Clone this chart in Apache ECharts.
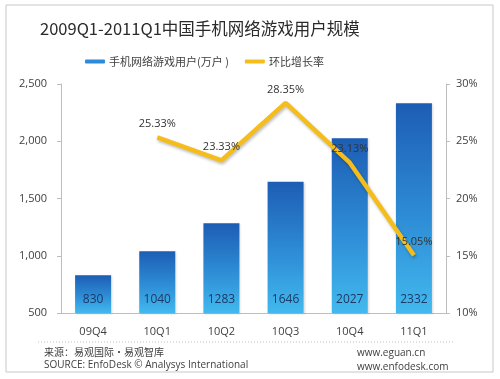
<!DOCTYPE html>
<html>
<head>
<meta charset="utf-8">
<script src="https://cdn.jsdelivr.net/npm/echarts@6/dist/echarts.min.js"></script>
<style>
html,body{margin:0;padding:0;background:#fff;}
#c{width:500px;height:379px;}
</style>
</head>
<body>
<div id="c"></div>
<script>
var categories = ['09Q4', '10Q1', '10Q2', '10Q3', '10Q4', '11Q1'];
var users = [830, 1040, 1283, 1646, 2027, 2332];
var growth = ['-', 25.33, 23.33, 28.35, 23.13, 15.05];
var leftTicks = { min: 500, max: 2500, interval: 500 };
var rightTicks = { min: 10, max: 30, interval: 5 };

var chart = echarts.init(document.getElementById('c'), null, { renderer: 'canvas' });
var font = '"Noto Sans CJK SC", "Open Sans", sans-serif';
var latin = '"Open Sans", "Noto Sans", sans-serif';
chart.setOption({
  animation: false,
  backgroundColor: '#fff',
  textStyle: { fontFamily: font },
  title: {
    text: '2009Q1-2011Q1中国手机网络游戏用户规模',
    left: 35, top: 15,
    textStyle: { fontSize: 16.5, fontWeight: 'normal', color: '#2a2a2a', fontFamily: font }
  },
  legend: {
    top: 51, left: 80,
    itemWidth: 20, itemHeight: 4, itemGap: 16,
    icon: 'roundRect',
    textStyle: { fontSize: 11, color: '#404040', fontFamily: font, padding: [0, 0, 0, -1] },
    data: [
      { name: '手机网络游戏用户(万户 )', itemStyle: { color: '#2c8ad8' } },
      { name: '环比增长率', itemStyle: { color: '#f5bd1b' } }
    ]
  },
  grid: { left: 61, right: 54, top: 84, bottom: 66 },
  xAxis: {
    type: 'category',
    data: categories,
    axisLine: { lineStyle: { color: '#bdbdbd', width: 1 } },
    axisTick: { show: false },
    axisLabel: { color: '#404040', fontSize: 11, margin: 13, fontFamily: latin }
  },
  yAxis: [
    {
      type: 'value', min: leftTicks.min, max: leftTicks.max, interval: leftTicks.interval,
      axisLine: { show: true, lineStyle: { color: '#bdbdbd' } },
      axisTick: { show: true, length: 4, lineStyle: { color: '#bdbdbd' } },
      splitLine: { show: false },
      axisLabel: {
        color: '#404040', fontSize: 11, margin: 14, fontFamily: latin,
        formatter: function (v) { return v.toLocaleString('en-US'); }
      }
    },
    {
      type: 'value', min: rightTicks.min, max: rightTicks.max, interval: rightTicks.interval,
      position: 'right',
      axisLine: { show: true, lineStyle: { color: '#bdbdbd' } },
      axisTick: { show: true, length: 4, lineStyle: { color: '#bdbdbd' } },
      splitLine: { show: false },
      axisLabel: { color: '#404040', fontSize: 11, margin: 10, fontFamily: latin, formatter: '{value}%' }
    }
  ],
  series: [
    {
      name: '手机网络游戏用户(万户 )',
      type: 'bar',
      data: users,
      barWidth: 36,
      itemStyle: {
        color: new echarts.graphic.LinearGradient(0, 0, 0, 1, [
          { offset: 0, color: '#1d5db4' },
          { offset: 0.55, color: '#2e8dd6' },
          { offset: 1, color: '#42b9ee' }
        ]),
        shadowColor: 'rgba(0,0,0,0.15)', shadowBlur: 2, shadowOffsetX: 1, shadowOffsetY: 1
      },
      label: {
        show: true, position: 'insideBottom', distance: 7,
        color: '#1c3a66', fontSize: 12, fontFamily: latin
      }
    },
    {
      name: '环比增长率',
      type: 'line',
      yAxisIndex: 1,
      data: growth,
      showSymbol: true,
      symbol: 'circle',
      symbolSize: 0,
      lineStyle: {
        color: '#f5bd1b', width: 4.5,
        shadowColor: 'rgba(0,0,0,0.25)', shadowBlur: 3, shadowOffsetX: 1, shadowOffsetY: 2
      },
      itemStyle: { color: '#f5bd1b' },
      label: {
        show: true, position: 'top', distance: 8,
        color: '#333333', fontSize: 11, fontFamily: latin,
        formatter: function (p) { return (typeof p.value === 'number') ? p.value.toFixed(2) + '%' : ''; }
      }
    }
  ],
  graphic: [
    { type: 'rect', shape: { x: 6, y: 5, width: 487, height: 367 }, style: { fill: null, stroke: '#c8c8c8', lineWidth: 1 }, silent: true },
    { type: 'line', shape: { x1: 38, y1: 342, x2: 455, y2: 342 }, style: { stroke: '#c0c0c0', lineWidth: 1, lineDash: [1, 2] }, silent: true },
    { type: 'text', left: 44, top: 347, style: { text: '来源：易观国际·易观智库', fontSize: 10, fill: '#404040', fontFamily: font } },
    { type: 'text', left: 44, top: 360, style: { text: 'SOURCE: EnfoDesk © Analysys International', fontSize: 10, fill: '#404040', fontFamily: latin } },
    { type: 'text', left: 357, top: 348, style: { text: 'www.eguan.cn', fontSize: 10, fill: '#404040', fontFamily: latin } },
    { type: 'text', left: 357, top: 362, style: { text: 'www.enfodesk.com', fontSize: 10, fill: '#404040', fontFamily: latin } }
  ]
});
</script>
</body>
</html>
